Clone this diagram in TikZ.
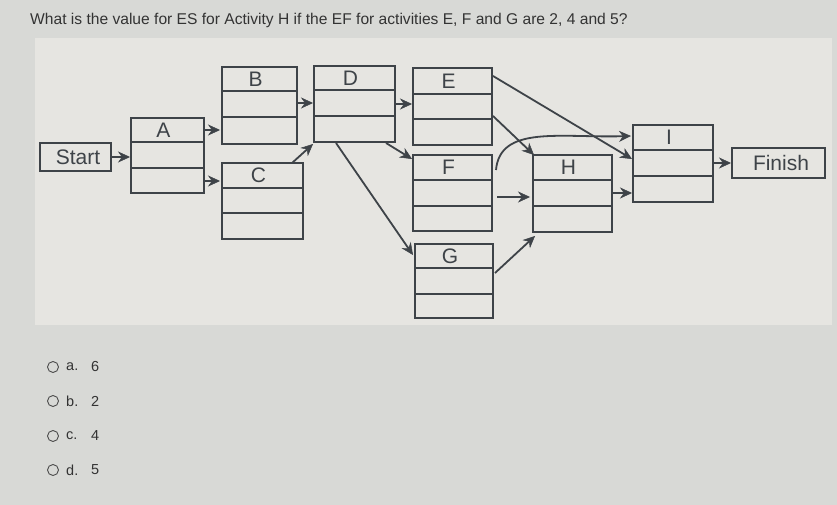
\documentclass[tikz,border=0pt]{standalone}
\usepackage{fontspec}
\setmainfont{Liberation Sans}
\usetikzlibrary{arrows.meta}
\definecolor{pagebg}{HTML}{D8D9D6}
\definecolor{panel}{HTML}{E6E5E1}
\definecolor{ink}{HTML}{3E4348}
\begin{document}
\begin{tikzpicture}[x=1pt,y=-1pt,
  box/.style={draw=ink,line width=2pt},
  arr/.style={draw=ink,line width=1.8pt,-{Stealth[length=12pt,width=11pt,fill=ink,line width=0.5pt]}},
  lbl/.style={font=\fontsize{21}{21}\selectfont,text=ink,inner sep=0pt},
  opt/.style={font=\fontsize{14.5}{14.5}\selectfont,text=black!80,inner sep=0pt,anchor=west}]
\fill[pagebg] (0,0) rectangle (837,505);
\useasboundingbox (0,0) rectangle (837,505);
\fill[panel] (35,38) rectangle (832,325);
\node[opt,anchor=west,font=\fontsize{15.6}{15.6}\selectfont] (q) at (30,20) {What is the value for ES for Activity H if the EF for activities E, F and G are 2, 4 and 5?};
\newcommand{\actbox}[8]{%
  \draw[box] (#2,#3) rectangle (#4,#5);
  \draw[box] (#2,#6) -- (#4,#6);
  \draw[box] (#2,#7) -- (#4,#7);
  \node[lbl] at ({(#2+#4)/2-4},{(#3+#6)/2}) {#8};
  \coordinate (#1nw) at (#2,#3);
  \coordinate (#1se) at (#4,#5);}
\actbox{A}{131}{118}{204}{193}{142}{168}{A}
\actbox{B}{222}{67}{297}{144}{91}{117}{B}
\actbox{C}{222}{163}{303}{239}{188}{213}{C}
\actbox{D}{314}{66}{395}{142}{90}{116}{D}
\actbox{E}{413}{68}{492}{145}{94}{119}{E}
\actbox{F}{413}{155}{492}{231}{180}{206}{F}
\actbox{G}{415}{244}{493}{318}{268}{294}{G}
\actbox{H}{533}{155}{612}{232}{180}{206}{H}
\actbox{I}{633}{125}{713}{202}{150}{176}{I}
\draw[box] (40,143) rectangle (111,171);
\node[lbl] (start) at (78,157) {Start};
\draw[box] (732,148) rectangle (825,178);
\node[lbl] (fin) at (781,163) {Finish};
\coordinate (s1) at (111,157); \coordinate (a1) at (130,157);
\draw[arr] (s1) -- (a1);
\coordinate (p1) at (205,130); \coordinate (p2) at (220,130); \draw[arr] (p1) -- (p2);
\coordinate (p3) at (205,181); \coordinate (p4) at (220,181); \draw[arr] (p3) -- (p4);
\coordinate (p5) at (297,103); \coordinate (p6) at (313,103); \draw[arr] (p5) -- (p6);
\coordinate (p7) at (292,163); \coordinate (p8) at (313,144); \draw[arr] (p7) -- (p8);
\coordinate (p9) at (395,104); \coordinate (p10) at (412,104); \draw[arr] (p9) -- (p10);
\coordinate (p11) at (386,143); \coordinate (p12) at (412,159); \draw[arr] (p11) -- (p12);
\coordinate (p13) at (336,143); \coordinate (p14) at (413,255); \draw[arr] (p13) -- (p14);
\coordinate (p15) at (493,76); \coordinate (p16) at (632,159); \draw[arr] (p15) -- (p16);
\coordinate (p17) at (493,116); \coordinate (p18) at (534,155); \draw[arr] (p17) -- (p18);
\coordinate (p19) at (496,170); \coordinate (p20) at (631,136);
\draw[arr] (p19) .. controls (500,125) and (560,138) .. (p20);
\coordinate (p21) at (497,197); \coordinate (p22) at (530,197); \draw[arr] (p21) -- (p22);
\coordinate (p23) at (495,273); \coordinate (p24) at (535,236); \draw[arr] (p23) -- (p24);
\coordinate (p25) at (612,193); \coordinate (p26) at (632,193); \draw[arr] (p25) -- (p26);
\coordinate (p27) at (713,163); \coordinate (p28) at (731,163); \draw[arr] (p27) -- (p28);
\foreach \y/\l/\v [count=\i] in {367/a./6,401/b./2,436/c./4,470/d./5}{
  \draw[black!70,line width=0.9pt] (53,\y) circle (5.5);
  \node[opt] (o\i) at (66,\y) {\l};
  \node[opt] (v\i) at (91,\y) {\v};
}
\end{tikzpicture}
\end{document}
